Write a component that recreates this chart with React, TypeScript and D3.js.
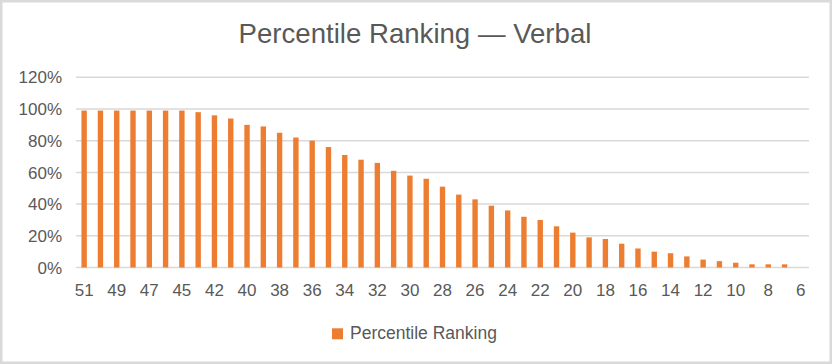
import React from "react";
import * as d3 from "d3";

const categories: string[] = [
  "51", "50", "49", "48", "47", "46", "45", "44", "42", "41", "40", "39", "38", "37", "36",
  "35", "34", "33", "32", "31", "30", "29", "28", "27", "26", "25", "24", "23", "22", "21",
  "20", "19", "18", "17", "16", "15", "14", "13", "12", "11", "10", "9", "8", "7", "6",
];
const percentile: number[] = [
  99, 99, 99, 99, 99, 99, 99, 98, 96, 94, 90, 89, 85, 82, 80,
  76, 71, 68, 66, 61, 58, 56, 51, 46, 43, 39, 36, 32, 30, 26,
  22, 19, 18, 15, 12, 10, 9, 7, 5, 4, 3, 2, 2, 2, 0,
];
const yTicks: number[] = [0, 20, 40, 60, 80, 100, 120];
const title = "Percentile Ranking — Verbal";
const seriesName = "Percentile Ranking";

const W = 832;
const H = 364;
const FONT = "'Liberation Sans', Arial, Helvetica, sans-serif";
const TEXT = "#595959";
const BAR = "#ED7D31";
const GRID = "#d9d9d9";

export default function App() {
  const left = 76;
  const right = 809;
  const top = 77.3;
  const bottom = 267.5;

  const x = d3
    .scaleBand<string>()
    .domain(categories)
    .range([left, right])
    .paddingInner(0.67)
    .paddingOuter(0.335);
  const y = d3.scaleLinear().domain([0, 120]).range([bottom, top]);

  return (
    <div style={{ position: "absolute", left: 0, top: 0 }}>
      <svg width={W} height={H} style={{ display: "block" }} fontFamily={FONT}>
        <rect x={0} y={0} width={W} height={H} fill="#ffffff" />
        <rect x={1.25} y={1.25} width={W - 2.5} height={H - 2.5} fill="none" stroke={GRID} strokeWidth={2.5} />
        <text x={415} y={42.7} textAnchor="middle" fontSize={27.6} fill={TEXT}>
          {title}
        </text>
        {yTicks.map((t) => (
          <g key={t}>
            <line x1={left} x2={right} y1={y(t)} y2={y(t)} stroke={GRID} strokeWidth={1.5} />
            <text x={62} y={y(t)} dy="0.36em" textAnchor="end" fontSize={17} fill={TEXT}>
              {t}%
            </text>
          </g>
        ))}
        {categories.map((c, i) => (
          <rect
            key={c}
            x={x(c)}
            y={y(percentile[i])}
            width={x.bandwidth()}
            height={y(0) - y(percentile[i])}
            fill={BAR}
          />
        ))}
        {categories.map((c, i) =>
          i % 2 === 0 ? (
            <text
              key={"l" + c}
              x={(x(c) as number) + x.bandwidth() / 2}
              y={295.7}
              textAnchor="middle"
              fontSize={17}
              fill={TEXT}
            >
              {c}
            </text>
          ) : null
        )}
        <rect x={332} y={328.3} width={11} height={11} fill={BAR} />
        <text x={350} y={339.3} fontSize={17.5} fill={TEXT}>
          {seriesName}
        </text>
      </svg>
    </div>
  );
}
